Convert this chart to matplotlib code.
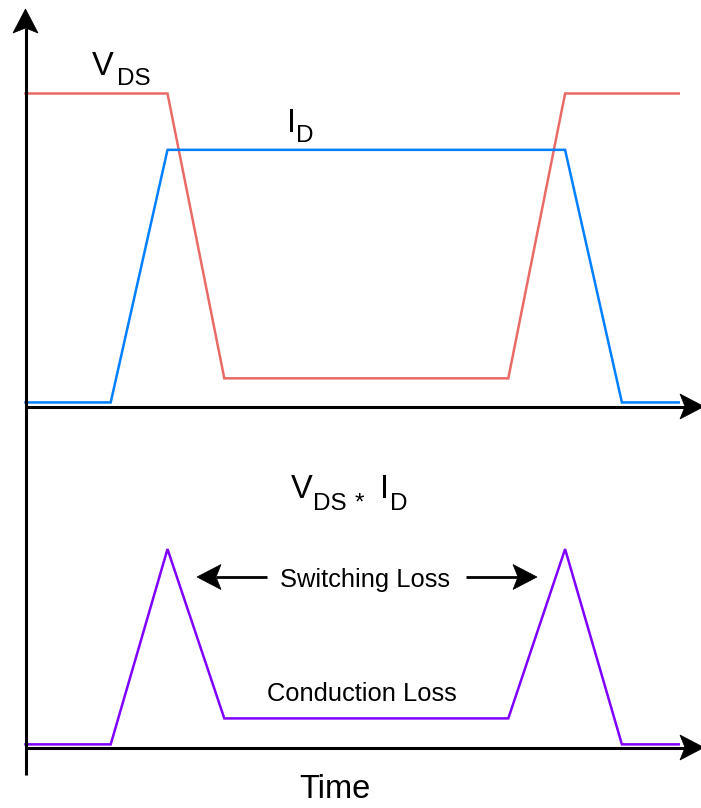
import numpy as np
import matplotlib.pyplot as plt
from matplotlib.patches import Polygon

plt.rcParams["font.family"] = ["Liberation Sans", "DejaVu Sans"]

# tiempos de los quiebres (unidades arbitrarias)
tiempo = [0, 1.5, 2.5, 3.5, 8.5, 9.5, 10.5, 11.5]
# formas de onda normalizadas
v_ds = [1.0, 1.0, 1.0, 0.09, 0.09, 1.0, 1.0, 1.0]
i_d = [0.013, 0.013, 0.82, 0.82, 0.82, 0.82, 0.013, 0.013]
potencia = [0.01, 0.01, 0.634, 0.093, 0.093, 0.634, 0.01, 0.01]

ROJO = "#EA6B66"
AZUL = "#007FFF"
VIOLETA = "#7F00FF"

W, H = 701, 808
fig = plt.figure(figsize=(W / 100, H / 100), dpi=100)

# geometria en pixeles
x0 = 25.5          # eje vertical
y_top = 406.5      # eje horizontal superior
y_bot = 747.5      # eje horizontal inferior
px_t = 56.8        # pixeles por unidad de tiempo
px_v = 313.0       # pixeles por unidad de amplitud
x_max = (W - x0) / px_t


def ejes_datos(y_eje, y_max):
    ax = fig.add_axes([x0 / W, (H - y_eje) / H, (W - x0) / W, y_max * px_v / H])
    ax.set_xlim(0, x_max)
    ax.set_ylim(0, y_max)
    ax.axis("off")
    ax.patch.set_alpha(0)
    return ax


ax1 = ejes_datos(y_top, 1.2)
ax1.plot(tiempo, v_ds, color=ROJO, lw=1.8, solid_joinstyle="miter", clip_on=False)
ax1.plot(tiempo, i_d, color=AZUL, lw=1.8, solid_joinstyle="miter", clip_on=False)

ax2 = ejes_datos(y_bot, 1.0)
ax2.plot(tiempo, potencia, color=VIOLETA, lw=1.8, solid_joinstyle="miter", clip_on=False)

# capa superior en pixeles para ejes, flechas y textos
ov = fig.add_axes([0, 0, 1, 1], zorder=5)
ov.set_xlim(0, W)
ov.set_ylim(H, 0)
ov.axis("off")
ov.patch.set_alpha(0)


def flecha(x_ini, y_ini, x_fin, y_fin, largo=24, ancho=12.5, muesca=5, lw=2.2):
    d = np.array([x_fin - x_ini, y_fin - y_ini], dtype=float)
    d /= np.hypot(*d)
    n = np.array([-d[1], d[0]])
    punta = np.array([x_fin, y_fin])
    base = punta - largo * d
    ov.plot([x_ini, base[0] + muesca * d[0]], [y_ini, base[1] + muesca * d[1]],
            color="black", lw=lw, solid_capstyle="butt")
    pts = [punta, base + ancho * n, punta - (largo - muesca) * d, base - ancho * n]
    ov.add_patch(Polygon(pts, closed=True, facecolor="black", edgecolor="black", lw=0.5))


flecha(x0, 775, x0, 9)
flecha(x0 - 1, y_top, 704, y_top)
flecha(x0 - 1, y_bot, 704, y_bot)
flecha(267, 577, 197, 577, lw=2.0)
flecha(466, 577, 537, 577, lw=2.0)

GRANDE = 23.5
CHICA = 17.5

ov.text(92, 75, "V", fontsize=GRANDE, va="baseline", ha="left")
ov.text(117, 85, "DS", fontsize=CHICA, va="baseline", ha="left")
ov.text(287, 132, "I", fontsize=GRANDE, va="baseline", ha="left")
ov.text(296, 142, "D", fontsize=CHICA, va="baseline", ha="left")

ov.text(291, 498, "V", fontsize=GRANDE, va="baseline", ha="left")
ov.text(313, 510, "DS", fontsize=CHICA, va="baseline", ha="left")
ov.text(355, 510, "*", fontsize=CHICA, va="baseline", ha="left")
ov.text(380, 498, "I", fontsize=GRANDE, va="baseline", ha="left")
ov.text(390, 510, "D", fontsize=CHICA, va="baseline", ha="left")

ov.text(365, 587, "Switching Loss", fontsize=18.4, va="baseline", ha="center")
ov.text(362, 701, "Conduction Loss", fontsize=18.4, va="baseline", ha="center")
ov.text(335, 798, "Time", fontsize=GRANDE, va="baseline", ha="center")

fig.savefig("out.png", dpi=100)
